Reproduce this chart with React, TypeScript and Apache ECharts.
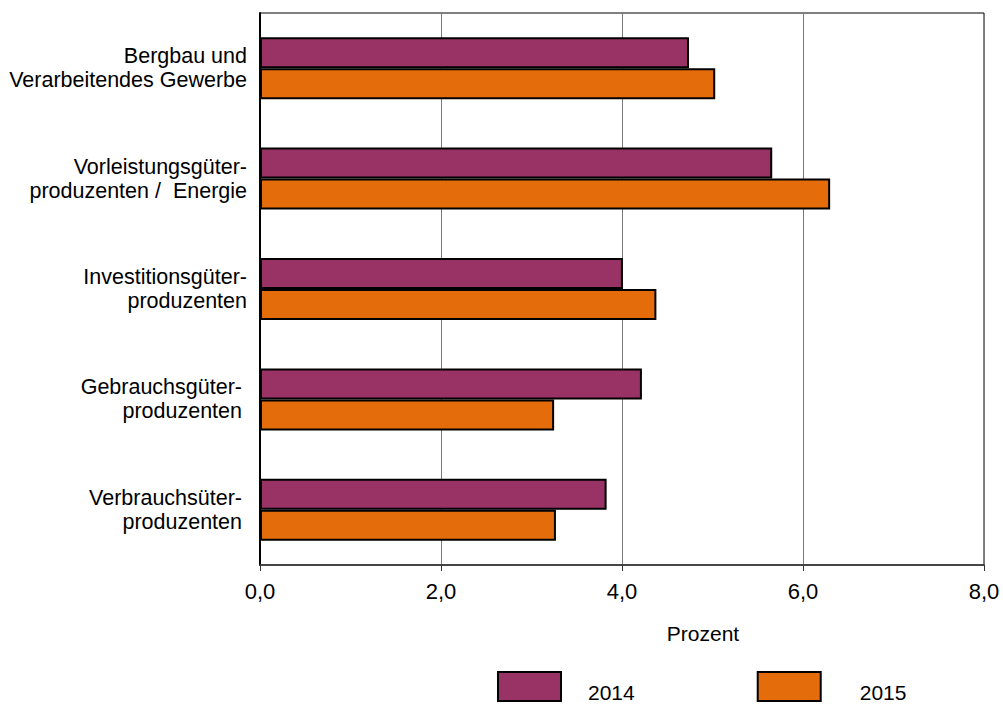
import React, { useEffect, useRef } from "react";
import * as echarts from "echarts";

const categories = [
  "Bergbau und\nVerarbeitendes Gewerbe",
  "Vorleistungsgüter-\nproduzenten /  Energie",
  "Investitionsgüter-\nproduzenten",
  "Gebrauchsgüter-\nproduzenten",
  "Verbrauchsüter-\nproduzenten",
];
const labelShift = [0, 0, 0, 5, 5];
const values2014 = [4.74, 5.66, 4.01, 4.22, 3.83];
const values2015 = [5.03, 6.3, 4.38, 3.25, 3.27];
const seriesNames = ["2014", "2015"];
const legendTextGap = [22, 34];
const xTicks = { min: 0, max: 8, interval: 2 };
const axisTitle = "Prozent";

const FONT = "'Liberation Sans', Arial, sans-serif";

export default function App() {
  const ref = useRef<HTMLDivElement>(null);

  useEffect(() => {
    if (!ref.current) return;
    const chart = echarts.init(ref.current, undefined, { renderer: "svg" });
    chart.setOption({
      animation: false,
      backgroundColor: "#ffffff",
      textStyle: { fontFamily: FONT },
      grid: {
        left: 260,
        right: 19,
        top: 13,
        bottom: 139,
        containLabel: false,
        show: true,
        borderColor: "#000",
        borderWidth: 1,
      },
      legend: {
        data: seriesNames.map((n, i) => ({
          name: n,
          textStyle: { padding: [0, 0, 0, legendTextGap[i]] },
        })),
        left: 497,
        top: 671,
        icon: "rect",
        itemWidth: 63,
        itemHeight: 29,
        itemGap: 122,
        padding: 0,
        formatter: (name: string) => `{s| }\n{t|${name}}`,
        textStyle: {
          fontFamily: FONT,
          fontSize: 21,
          color: "#000",
          rich: {
            s: { fontSize: 4, lineHeight: 12 },
            t: { fontFamily: FONT, fontSize: 21, lineHeight: 21, color: "#000" },
          },
        },
      },
      xAxis: {
        type: "value",
        min: xTicks.min,
        max: xTicks.max,
        interval: xTicks.interval,
        axisLine: { show: true, lineStyle: { color: "#333", width: 1.5 } },
        axisTick: { show: true, length: 6, lineStyle: { color: "#333" } },
        axisLabel: {
          fontFamily: FONT,
          fontSize: 22,
          color: "#000",
          margin: 15,
          formatter: (v: number) => v.toFixed(1).replace(".", ","),
        },
        splitLine: { show: true, lineStyle: { color: "#7a7a7a", width: 1 } },
      },
      yAxis: {
        type: "category",
        inverse: true,
        data: categories.map((c, i) => ({
          value: c,
          textStyle: { padding: [0, labelShift[i], 0, 0] },
        })),
        axisLine: { show: true, lineStyle: { color: "#000", width: 2 } },
        axisTick: { show: false },
        axisLabel: {
          fontFamily: FONT,
          fontSize: 21.5,
          lineHeight: 24,
          color: "#000",
          margin: 13,
          align: "right",
        },
      },
      graphic: [
        {
          type: "text",
          x: 703,
          y: 633,
          style: {
            text: axisTitle,
            fontFamily: FONT,
            fontSize: 21,
            fill: "#000",
            align: "center",
            verticalAlign: "middle",
          },
        },
      ],
      series: [
        {
          name: seriesNames[0],
          type: "bar",
          data: values2014,
          barWidth: 31,
          barGap: "0%",
          itemStyle: { color: "#993366", borderColor: "#000", borderWidth: 2 },
        },
        {
          name: seriesNames[1],
          type: "bar",
          data: values2015,
          barWidth: 31,
          barGap: "0%",
          itemStyle: { color: "#E46C0A", borderColor: "#000", borderWidth: 2 },
        },
      ],
    });
    return () => chart.dispose();
  }, []);

  return (
    <div
      ref={ref}
      style={{ position: "absolute", left: 0, top: 0, width: 1003, height: 704 }}
    />
  );
}
